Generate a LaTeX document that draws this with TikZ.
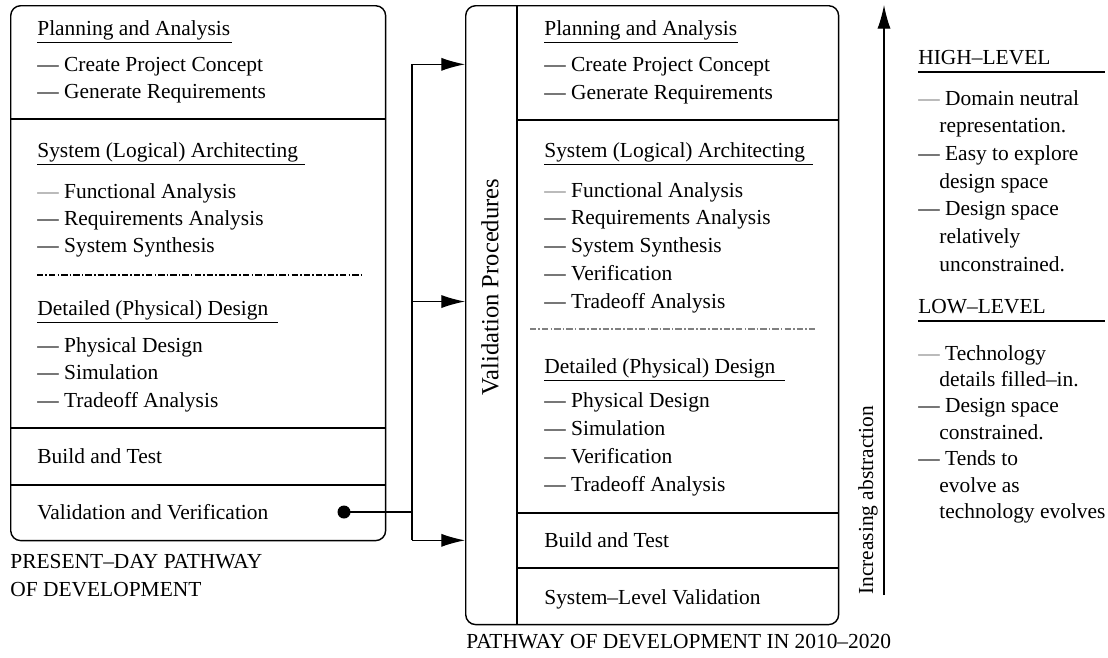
\documentclass[tikz,border=0pt]{standalone}
\usepackage{fontspec}
\setmainfont{Liberation Serif}
\usetikzlibrary{positioning, arrows.meta}

\begin{document}
\begin{tikzpicture}[
  x=0.02cm, y=-0.02cm,
  font=\fontsize{12.2}{15.6}\selectfont,
  box/.style={draw, line width=0.8pt, rounded corners=0.2cm, inner sep=0pt, anchor=north west},
  rule/.style={line width=0.8pt},
  txt/.style={anchor=base west, inner sep=0pt},
  sep/.style={line width=0.7pt, dash pattern=on 3.6pt off 1.2pt on 0.9pt off 1.2pt},
  arr/.style={line width=0.7pt, -{Latex[length=13.5pt, width=7.5pt]}},
  dot/.style={circle, fill, inner sep=0pt, minimum size=0.26cm}
]
  \useasboundingbox (0,0) rectangle (1108,657);

  % present-day pathway
  \node[box, minimum width=7.5cm, minimum height=10.7cm] (present) at (10,5) {};
  \draw[rule] (10,119) -- (385,119);
  \draw[rule] (10,428) -- (385,428);
  \draw[rule] (10,485) -- (385,485);
  \draw[sep] (37,275) -- (363,275);

  \node[txt] (lpa) at (37,35) {Planning and Analysis};
  \foreach \t [count=\i from 0] in {— Create Project Concept, — Generate Requirements}
    \node[txt] (lpa\i) at (37,71+27*\i) {\t};
  \node[txt] (lsla) at (37,157) {System (Logical) Architecting};
  \foreach \t [count=\i from 0] in {\textcolor{gray}{—} Functional Analysis, — Requirements Analysis, — System Synthesis}
    \node[txt] (lsla\i) at (37,198+27*\i) {\t};
  \node[txt] (ldpd) at (37,315) {Detailed (Physical) Design};
  \foreach \t [count=\i from 0] in {— Physical Design, — Simulation, — Tradeoff Analysis}
    \node[txt] (ldpd\i) at (37,352+27.5*\i) {\t};
  \node[txt] (lbt) at (37,463) {Build and Test};
  \node[txt] (lvv) at (37,519) {Validation and Verification};

  \node[txt] (cappresent) at (10,568) {PRESENT–DAY PATHWAY};
  \node[txt] (cappresentb) at (10,596) {OF DEVELOPMENT};

  % pathway 2010-2020
  \node[box, minimum width=7.46cm, minimum height=12.38cm] (future) at (465,5) {};
  \draw[rule] (517,5) -- (517,624);
  \draw[rule] (517,120) -- (838,120);
  \draw[rule] (517,513) -- (838,513);
  \draw[rule] (517,568) -- (838,568);
  \draw[sep, gray] (530,329) -- (817,329);

  \node[rotate=90, inner sep=0pt, font=\fontsize{14}{17}\selectfont] (valproc) at (490,287) {Validation Procedures};

  \node[txt] (rpa) at (544,35) {Planning and Analysis};
  \foreach \t [count=\i from 0] in {— Create Project Concept, — Generate Requirements}
    \node[txt] (rpa\i) at (544,71+28*\i) {\t};
  \node[txt] (rsla) at (544,157) {System (Logical) Architecting};
  \foreach \t [count=\i from 0] in {\textcolor{gray}{—} Functional Analysis, — Requirements Analysis, — System Synthesis, — Verification, — Tradeoff Analysis}
    \node[txt] (rsla\i) at (544,197+27.8*\i) {\t};
  \node[txt] (rdpd) at (544,373) {Detailed (Physical) Design};
  \foreach \t [count=\i from 0] in {— Physical Design, — Simulation, — Verification, — Tradeoff Analysis}
    \node[txt] (rdpd\i) at (544,407+28.3*\i) {\t};
  \node[txt] (rbt) at (544,547) {Build and Test};
  \node[txt] (rslv) at (544,604) {System–Level Validation};

  \node[txt] (capfuture) at (466,648) {PATHWAY OF DEVELOPMENT IN 2010–2020};

  % underlines
  \foreach \n/\w in {lpa/195, lsla/268, ldpd/241, rpa/194, rsla/269, rdpd/241}
    \draw[rule] ([yshift=-4.2pt]\n.base west) -- ++(\w,0);

  % validation links
  \coordinate (bus) at (412,0);
  \node[dot] (vvdot) at (344,512) {};
  \draw[line width=0.7pt] (vvdot.center) -- (bus |- vvdot.center);
  \draw[line width=0.7pt] ([yshift=1.5pt]bus |- rpa0.mid) -- ([yshift=1.5pt]bus |- rbt.mid);
  \foreach \n in {rpa0, rsla4, rbt}
    \draw[arr] ([yshift=1.5pt]bus |- \n.mid) -- ([yshift=1.5pt]future.west |- \n.mid);

  % abstraction axis
  \coordinate (abot) at (884,595);
  \coordinate (atop) at (884,5);
  \draw[arr] (abot) -- (atop);
  \node[txt, rotate=90] (abs) at (873,595) {Increasing abstraction};

  \node[txt] (high) at (918,64) {HIGH–LEVEL};
  \node[anchor=north west, inner sep=0pt, align=left, font=\fontsize{12.2}{15.75}\selectfont] (highl) at (918,90)
    {\textcolor{gray}{—} Domain neutral\\\hspace*{12pt}representation.\\— Easy to explore\\\hspace*{12pt}design space\\— Design space\\\hspace*{12pt}relatively\\\hspace*{12pt}unconstrained.};
  \node[txt] (low) at (918,313) {LOW–LEVEL};
  \node[anchor=north west, inner sep=0pt, align=left, font=\fontsize{12.2}{15}\selectfont] (lowl) at (918,345)
    {\textcolor{gray}{—} Technology\\\hspace*{12pt}details filled–in.\\— Design space\\\hspace*{12pt}constrained.\\— Tends to\\\hspace*{12pt}evolve as\\\hspace*{12pt}technology evolves};
  \foreach \n in {high, low}
    \draw[rule] ([yshift=-4.5pt]\n.base west) -- ++(187,0);
\end{tikzpicture}
\end{document}
